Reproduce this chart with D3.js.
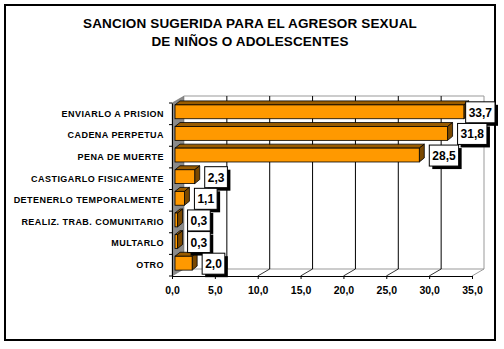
<!DOCTYPE html>
<html><head><meta charset="utf-8">
<script src="https://cdn.jsdelivr.net/npm/d3@7"></script>
<style>body{margin:0;background:#fff}svg{display:block}</style>
</head><body>
<script>
const titleLines = ["SANCION SUGERIDA PARA EL AGRESOR SEXUAL", "DE NIÑOS O ADOLESCENTES"];
const categories = ["ENVIARLO A PRISION","CADENA PERPETUA","PENA DE MUERTE","CASTIGARLO FISICAMENTE","DETENERLO TEMPORALMENTE","REALIZ. TRAB. COMUNITARIO","MULTARLO","OTRO"];
const values = [33.7, 31.8, 28.5, 2.3, 1.1, 0.3, 0.3, 2.0];
const xTicks = [0,5,10,15,20,25,30,35];

(function(){
const W=504,H=349;
const svg=d3.select("body").append("svg").attr("width",W).attr("height",H);
const font="Arial, 'Liberation Sans', sans-serif";
const fmt=v=>v.toFixed(1).replace(".",",");

svg.append("rect").attr("x",5).attr("y",5).attr("width",490).attr("height",335)
  .attr("fill","#fff").attr("stroke","#000").attr("stroke-width",2);

svg.append("g").selectAll("text").data(titleLines).join("text")
  .attr("x",250).attr("y",(d,i)=>28+i*18).attr("text-anchor","middle")
  .attr("font-family",font).attr("font-weight","bold").attr("font-size",13.5).attr("letter-spacing",0.15).text(d=>d);

const x=d3.scaleLinear().domain([0,35]).range([172,472]);
const y=d3.scaleBand().domain(categories).range([103,276]).paddingInner(0.36).paddingOuter(0.18);
const yb=d3.scaleBand().domain(categories).range([103,276]);
const DX=12, DY=-7;
const yTop=103,yBot=276,x0=x(0),x1=x(35);

svg.append("path").attr("d",`M${x0},${yTop}L${x0+DX},${yTop+DY}L${x0+DX},${yBot+DY}L${x0},${yBot}Z`)
  .attr("fill","#8a8a8a").attr("stroke","#666").attr("stroke-width",0.5);
svg.append("path").attr("d",`M${x0+DX},${yTop+DY}L${x1+DX},${yTop+DY}L${x1+DX},${yBot+DY}L${x0+DX},${yBot+DY}`)
  .attr("fill","none").attr("stroke","#999").attr("stroke-width",1);
svg.append("line").attr("x1",x1).attr("y1",yBot).attr("x2",x1+DX).attr("y2",yBot+DY).attr("stroke","#999");
svg.append("g").selectAll("line").data(xTicks.slice(1,-1)).join("line")
  .attr("x1",d=>x(d)+DX).attr("x2",d=>x(d)+DX).attr("y1",yTop+DY).attr("y2",yBot+DY)
  .attr("stroke","#000").attr("stroke-width",1);
svg.append("g").selectAll("line").data(xTicks.slice(1,-1)).join("line")
  .attr("x1",d=>x(d)).attr("x2",d=>x(d)+DX).attr("y1",yBot).attr("y2",yBot+DY)
  .attr("stroke","#000").attr("stroke-width",0.8);

const xa=svg.append("g").attr("transform",`translate(0,${yBot})`)
  .call(d3.axisBottom(x).tickValues(xTicks).tickSize(3).tickFormat(fmt));
xa.select(".domain").attr("stroke","#000");
xa.selectAll("text").attr("font-family",font).attr("font-weight","bold").attr("font-size",10.5).attr("dy","1.1em").attr("fill","#000");
const ya=svg.append("g").attr("transform",`translate(${x0},0)`)
  .call(d3.axisLeft(yb).tickSize(0).tickPadding(8));
ya.select(".domain").attr("stroke","#000");
ya.selectAll("text").attr("font-family",font).attr("font-weight","bold").attr("font-size",9).attr("letter-spacing",0.45).attr("fill","#000");
svg.append("g").selectAll("line").data(d3.range(categories.length+1)).join("line")
  .attr("x1",x0-3).attr("x2",x0).attr("y1",i=>yTop+i*yb.step()).attr("y2",i=>yTop+i*yb.step()).attr("stroke","#000");

const ox=3, oy=-2, bdx=5, bdy=-4;
const bars=svg.append("g").selectAll("g").data(values).join("g");
bars.each(function(v,i){
  const g=d3.select(this);
  const xl=x0+ox, xr=x(v)+ox, yt=y(categories[i])+oy, h=y.bandwidth();
  g.append("path").attr("d",`M${xl},${yt}L${xl+bdx},${yt+bdy}L${xr+bdx},${yt+bdy}L${xr},${yt}Z`)
    .attr("fill","#9a5c00").attr("stroke","#000").attr("stroke-width",0.8);
  g.append("path").attr("d",`M${xr},${yt}L${xr+bdx},${yt+bdy}L${xr+bdx},${yt+h+bdy}L${xr},${yt+h}Z`)
    .attr("fill","#7a4800").attr("stroke","#000").attr("stroke-width",0.8);
  g.append("rect").attr("x",xl).attr("y",yt).attr("width",xr-xl).attr("height",h)
    .attr("fill","#ff9900").attr("stroke","#000").attr("stroke-width",0.8);
});

const labs=svg.append("g").selectAll("g").data(values).join("g");
labs.each(function(v,i){
  const g=d3.select(this);
  const t=g.append("text").attr("font-family",font).attr("font-weight","bold").attr("font-size",12).text(fmt(v));
  const tw=t.node().getComputedTextLength();
  const bw=tw+6, bh=21;
  let bx=x(v)+ox+bdx+5;
  if(bx+bw>495) bx=495-bw;
  const cy=yb(categories[i])+yb.bandwidth()/2-1.5;
  const by=cy-bh/2;
  g.insert("rect","text").attr("x",bx+3).attr("y",by+3).attr("width",bw).attr("height",bh).attr("fill","#000");
  g.insert("rect","text").attr("x",bx).attr("y",by).attr("width",bw).attr("height",bh).attr("fill","#fff").attr("stroke","#000").attr("stroke-width",1);
  t.attr("x",bx+bw/2).attr("y",cy+4.5).attr("text-anchor","middle");
});
})();
</script>
</body></html>
